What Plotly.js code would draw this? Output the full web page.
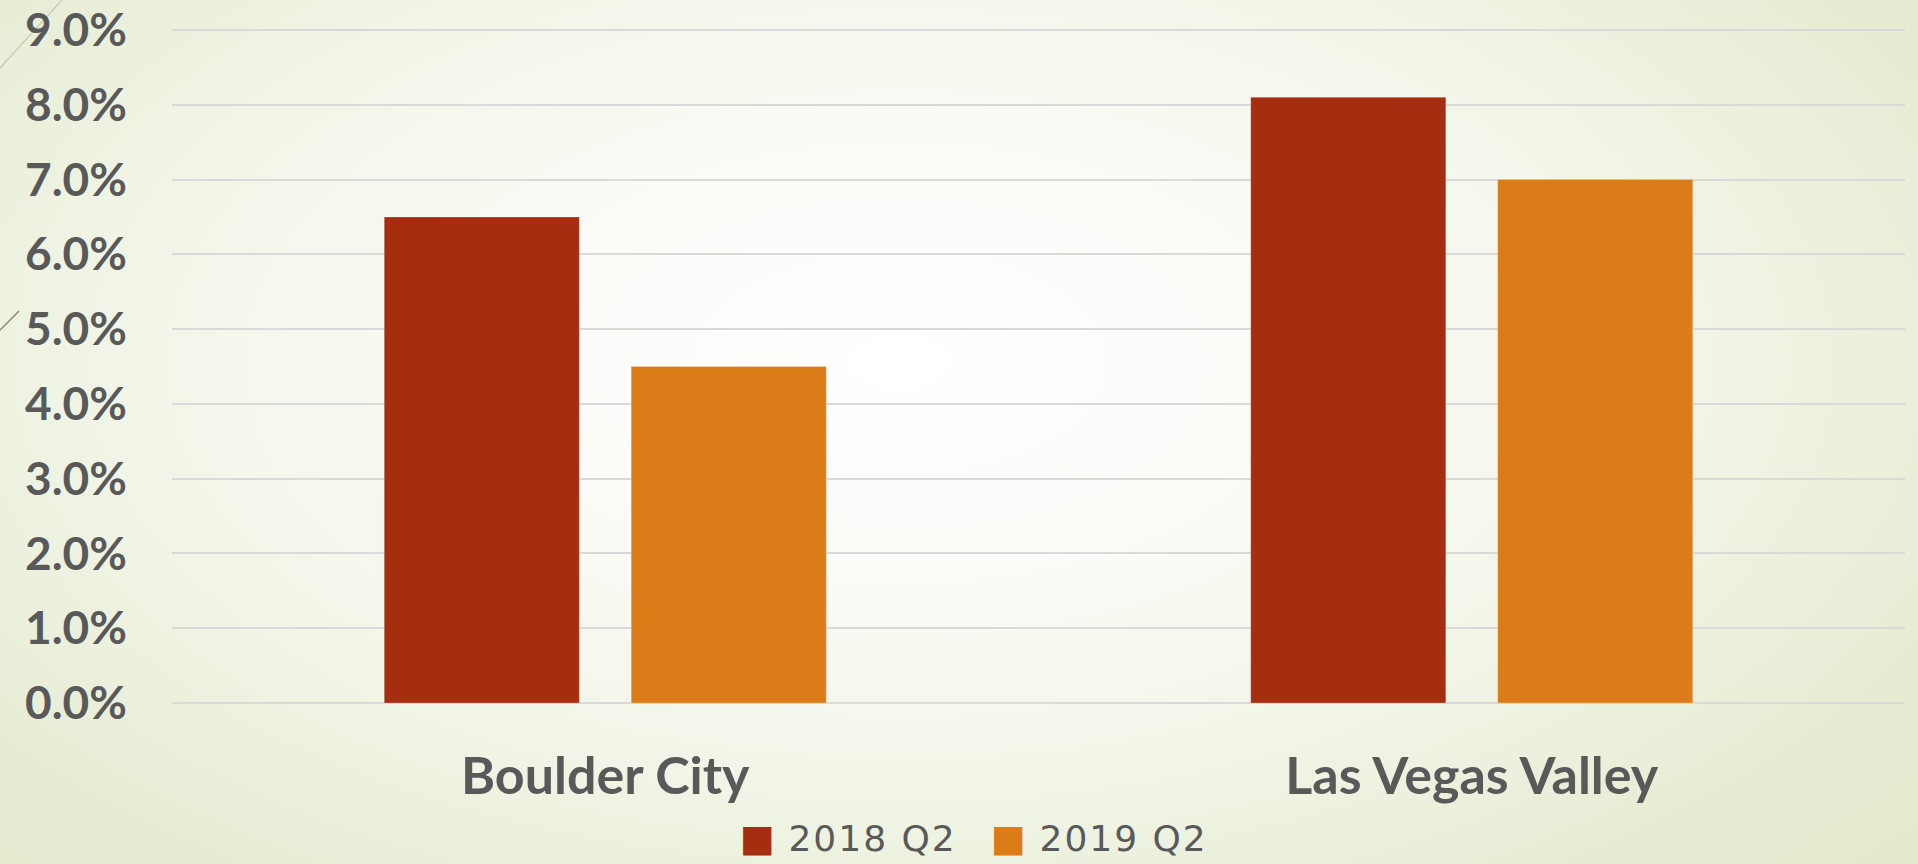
<!DOCTYPE html>
<html>
<head>
<meta charset="utf-8">
<script src="https://cdn.plot.ly/plotly-3.0.1.min.js"></script>
<style>
  html, body { margin: 0; padding: 0; width: 1918px; height: 864px; overflow: hidden; }
  body {
    background: radial-gradient(ellipse 75% 90% at 47% 42%, #ffffff 0%, #fbfcf8 25%, #f1f5e7 55%, #e6ecd3 80%, #e0e8c8 100%);
  }
  #chart { position: absolute; left: 0; top: 0; width: 1918px; height: 864px; }
  #deco { position: absolute; left: 0; top: 0; pointer-events: none; }
</style>
</head>
<body>
<svg id="deco" width="1918" height="864">
  <line x1="0" y1="68" x2="62" y2="0" stroke="#c9c8b2" stroke-width="1.2"/>
  <line x1="0" y1="330" x2="19" y2="311" stroke="#7f7862" stroke-width="1.2"/>
</svg>
<div id="chart"></div>
<script>
const categories = ["Boulder City", "Las Vegas Valley"];
const seriesNames = ["2018 Q2", "2019 Q2"];
const values2018 = [0.065, 0.081];
const values2019 = [0.045, 0.070];
const seriesColors = ["#A52E10", "#DC7C19"];
const yTickValues = [0, 0.01, 0.02, 0.03, 0.04, 0.05, 0.06, 0.07, 0.08, 0.09];

const labelColor = "#595959";
const gridColor = "#d9d9d9";

const traces = [values2018, values2019].map((vals, i) => ({
  type: "bar",
  name: seriesNames[i],
  x: categories,
  y: vals,
  marker: { color: seriesColors[i], line: { color: "rgba(255,255,255,0.25)", width: 1 } },
  hoverinfo: "none",
  showlegend: false
}));

const legendText = seriesNames.map((n, i) =>
  '<span style="color:' + seriesColors[i] + ';font-size:37px">■</span>' +
  '<span style="font-size:36px;letter-spacing:2px"> ' + n + '</span>'
).join('<span>   </span>');

const layout = {
  width: 1918,
  height: 864,
  margin: { l: 172, r: 13, t: 26, b: 161, pad: 0 },
  paper_bgcolor: "rgba(0,0,0,0)",
  plot_bgcolor: "rgba(0,0,0,0)",
  barmode: "group",
  bargap: 0.43,
  bargroupgap: 0.21,
  xaxis: {
    type: "category",
    showgrid: false,
    zeroline: false,
    showline: false,
    ticks: "",
    ticklabelstandoff: 38,
    tickfont: { family: "Lato", size: 52, color: labelColor, weight: "bold" }
  },
  yaxis: {
    range: [0, 0.09053],
    tickvals: yTickValues,
    tickformat: ".1%",
    showgrid: true,
    gridcolor: gridColor,
    gridwidth: 2,
    zeroline: true,
    zerolinecolor: gridColor,
    zerolinewidth: 2,
    showline: false,
    ticks: "",
    ticklabelstandoff: 44,
    tickfont: { family: "Lato", size: 46, color: labelColor, weight: "bold" }
  },
  annotations: [{
    xref: "paper", yref: "paper",
    x: 0.4628, y: -0.2,
    xanchor: "center", yanchor: "middle",
    showarrow: false,
    text: legendText,
    font: { family: "DejaVu Sans", size: 36, color: labelColor }
  }]
};

Plotly.newPlot("chart", traces, layout, { staticPlot: true, displayModeBar: false });
</script>
</body>
</html>
